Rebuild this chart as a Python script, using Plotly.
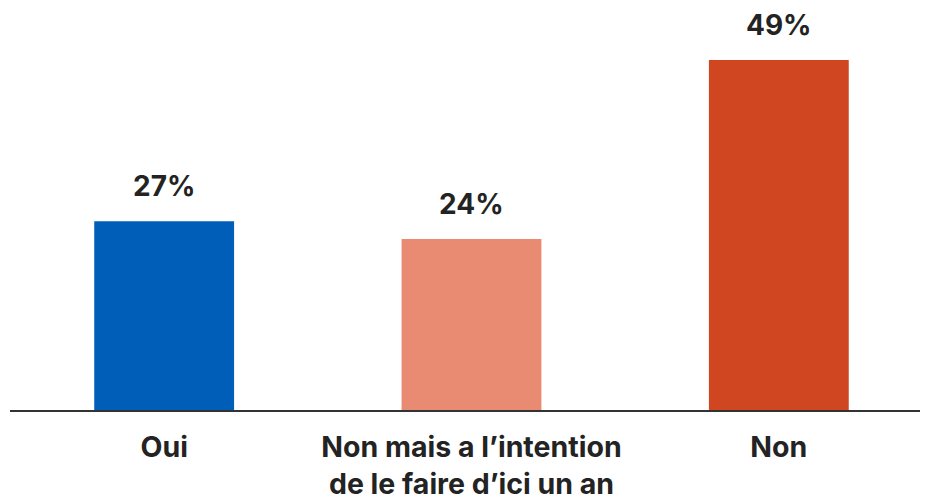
import plotly.graph_objects as go

categories = ["Oui", "Non mais a l’intention<br>de le faire d’ici un an", "Non"]
values = [26.6, 24.1, 49.3]
labels = ["27%", "24%", "49%"]
colors = ["#005EB8", "#E98A72", "#D04620"]

FONT = "Inter"
TXT = "#232323"

fig = go.Figure()
fig.add_trace(go.Bar(
    x=categories, y=values, marker=dict(color=colors, line=dict(width=0)),
    width=0.455, hoverinfo="skip",
))

for c, v, t in zip(categories, values, labels):
    fig.add_annotation(x=c, y=v, text=t, showarrow=False, yanchor="bottom",
                       yshift=16, font=dict(family=FONT, size=28, color=TXT, weight="bold"))

fig.update_layout(
    width=928, height=499,
    margin=dict(l=2, r=0, t=0, b=97),
    paper_bgcolor="white", plot_bgcolor="white",
    showlegend=False,
    xaxis=dict(
        type="category",
        range=[-0.5016, 2.5114],
        showline=True, linecolor="#333333", linewidth=2,
        showgrid=False, zeroline=False, ticks="",
        ticklabelstandoff=11,
        tickfont=dict(family=FONT, size=28.5, color=TXT, weight="bold"),
    ),
    yaxis=dict(range=[0, 402 / 7.1], visible=False, showgrid=False, zeroline=False),
)

fig.write_html("out.html")
